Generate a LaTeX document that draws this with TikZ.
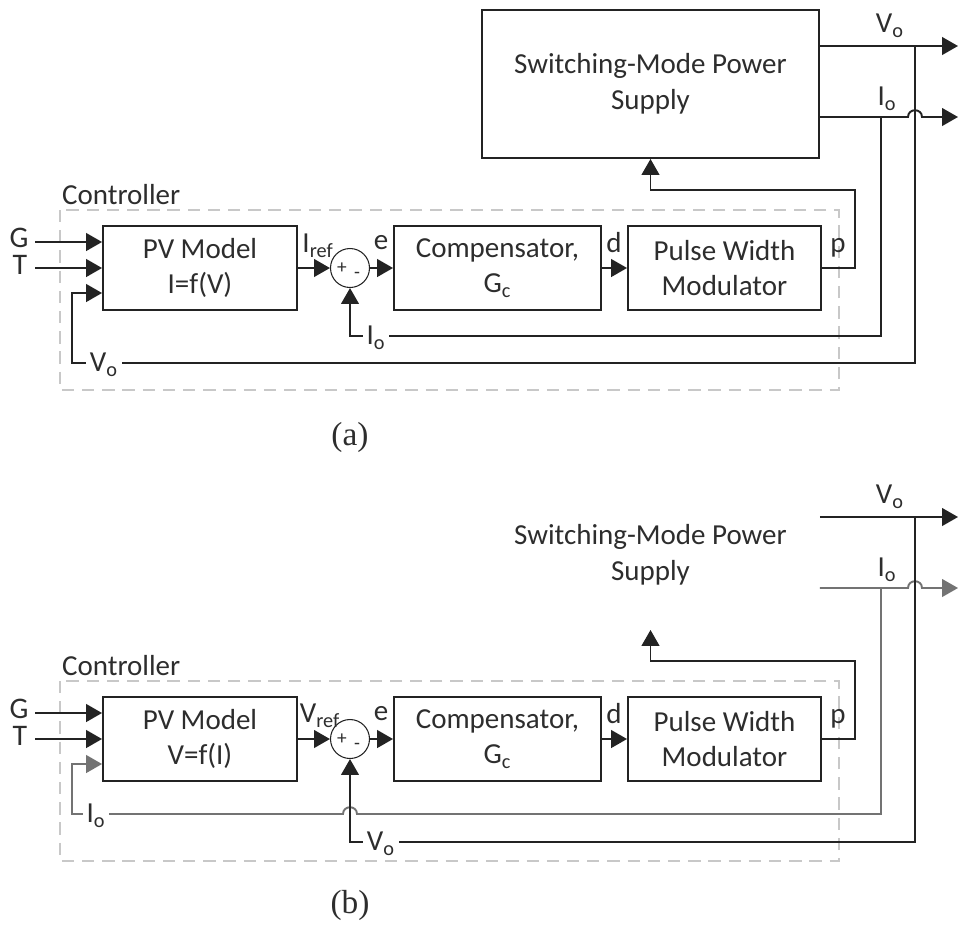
\documentclass[tikz,border=0pt]{standalone}
\usepackage{fontspec}
\setmainfont{Carlito}
\newfontfamily\capfont{Liberation Serif}
\usetikzlibrary{arrows.meta,positioning,calc}
\definecolor{lineDark}{RGB}{35,35,35}
\definecolor{lineGray}{RGB}{115,115,115}
\definecolor{dashGray}{RGB}{200,200,200}
\definecolor{textDark}{RGB}{45,45,45}

\tikzset{
  blk/.style={draw=lineDark, line width=1.1pt, minimum height=1.68cm, align=center,
    font=\fontsize{16.5}{20.4}\selectfont, text=textDark},
  sig/.style={draw=lineDark, line width=1.1pt},
  arr/.style={sig, -{Triangle[length=9pt,width=10pt]}},
  lbl/.style={font=\fontsize{16.5}{20}\selectfont, text=textDark, inner sep=1pt},
  inlbl/.style={lbl, font=\fontsize{17}{20}\selectfont, inner sep=0pt, text height=0.6em, text depth=0pt},
  gaplbl/.style={lbl, fill=white, inner sep=2pt},
  sgn/.style={font=\fontsize{11}{11}\selectfont, text=textDark, inner sep=0pt},
  sumnode/.style={circle, draw=lineDark, line width=0.6pt, minimum size=0.78cm, inner sep=0pt},
  ctrlbox/.style={draw=dashGray, line width=1pt, dash pattern=on 7pt off 4.5pt},
  captxt/.style={font=\capfont\fontsize{19}{22}\selectfont, text=textDark}
}

\begin{document}
\begin{tikzpicture}[x=0.02cm, y=-0.02cm]
  \useasboundingbox (0,0) rectangle (960,931);

  %%% (a) current reference
  \node[blk, minimum width=6.74cm, minimum height=2.96cm] (smpsA) at (650.5,84) {Switching-Mode Power\\Supply};
  \coordinate (voA) at (958,46);
  \coordinate (ioA) at (958,117);
  \coordinate (voTapA) at (915,46);
  \coordinate (ioTapA) at (881,117);
  \draw[arr] (smpsA.east |- voA) -- (voA);
  \draw[arr] (smpsA.east |- ioA) -- (908,117) .. controls (908,108) and (922,108) .. (922,117) -- (ioA);
  \node[lbl] (voLblA) at (890,26) {V\textsubscript{o}};
  \node[lbl] (ioLblA) at (887,99) {I\textsubscript{o}};

  \draw[ctrlbox] (60,210) rectangle (839,390);
  \node[lbl, anchor=west] (ctrlA) at (60,195) {Controller};

  \node[blk, minimum width=3.88cm] (pvA) at (200,268) {PV Model\\I=f(V)};
  \node[inlbl] (gA) at (19,242) {G};
  \node[inlbl] (tA) at (20,269) {T};
  \draw[arr] (35,242) -- (pvA.west |- 0,242);
  \draw[arr] (35,268) -- (pvA.west |- 0,268);

  \node[sumnode] (sumA) at (350,268) {};
  \node[sgn] (plusA) at (342,268) {+};
  \node[sgn] (minusA) at (357,275) {-};
  \node[lbl] (irefA) at (318,246) {I\textsubscript{ref}};
  \node[lbl] (eA) at (381,243) {e};
  \node[blk, minimum width=4.14cm] (compA) at (497.5,268) {Compensator,\\G\textsubscript{c}};
  \node[lbl] (dA) at (614,243) {d};
  \node[blk, minimum width=3.86cm] (pwmA) at (724.5,268) {Pulse Width\\Modulator};
  \node[lbl] (pA) at (838,248) {p};

  % Arrows
  \draw[arr] (pvA) -- (sumA);
  \draw[arr] (sumA) -- (compA);
  \draw[arr] (compA) -- (pwmA);
  \draw[arr] (pwmA.east) -| (855,190) -| (smpsA.south);
  % Feedback
  \draw[arr] (ioTapA) |- (350,336) -- (sumA.south);
  \draw[arr] (voTapA) |- (72,363) |- (pvA.west |- 0,293);
  \node[gaplbl] (ioFbA) at (376,338) {I\textsubscript{o}};
  \node[gaplbl] (voFbA) at (104,365) {V\textsubscript{o}};

  \node[captxt] (capA) at (350,437) {(a)};

  %%% (b) voltage reference
  \node[blk, draw=none, minimum width=6.74cm, minimum height=2.96cm] (smpsB) at (650.5,555) {Switching-Mode Power\\Supply};
  \coordinate (voB) at (958,517);
  \coordinate (ioB) at (958,588);
  \coordinate (voTapB) at (915,517);
  \coordinate (ioTapB) at (881,588);
  \draw[arr] (smpsB.east |- voB) -- (voB);
  \draw[arr, draw=lineGray] (smpsB.east |- ioB) -- (908,588) .. controls (908,579) and (922,579) .. (922,588) -- (ioB);
  \node[lbl] (voLblB) at (890,497) {V\textsubscript{o}};
  \node[lbl] (ioLblB) at (887,570) {I\textsubscript{o}};

  \draw[ctrlbox] (60,681) rectangle (839,861);
  \node[lbl, anchor=west] (ctrlB) at (60,666) {Controller};

  \node[blk, minimum width=3.88cm] (pvB) at (200,739) {PV Model\\V=f(I)};
  \node[inlbl] (gB) at (19,713) {G};
  \node[inlbl] (tB) at (20,740) {T};
  \draw[arr] (35,713) -- (pvB.west |- 0,713);
  \draw[arr] (35,739) -- (pvB.west |- 0,739);

  \node[sumnode] (sumB) at (350,739) {};
  \node[sgn] (plusB) at (342,739) {+};
  \node[sgn] (minusB) at (357,746) {-};
  \node[lbl] (vrefB) at (320,716) {V\textsubscript{ref}};
  \node[lbl] (eB) at (381,714) {e};
  \node[blk, minimum width=4.14cm] (compB) at (497.5,739) {Compensator,\\G\textsubscript{c}};
  \node[lbl] (dB) at (614,714) {d};
  \node[blk, minimum width=3.86cm] (pwmB) at (724.5,739) {Pulse Width\\Modulator};
  \node[lbl] (pB) at (838,719) {p};

  % Arrows
  \draw[arr] (pvB) -- (sumB);
  \draw[arr] (sumB) -- (compB);
  \draw[arr] (compB) -- (pwmB);
  \draw[arr] (pwmB.east) -| (855,661) -| (smpsB.south);
  % Feedback
  \draw[arr, draw=lineGray] (ioTapB) |- (357,814) .. controls (357,805) and (343,805) .. (343,814) -| (72,764) -- (pvB.west |- 0,764);
  \draw[arr] (voTapB) |- (350,842) -- (sumB.south);
  \node[gaplbl] (ioFbB) at (96,816) {I\textsubscript{o}};
  \node[gaplbl] (voFbB) at (381,844) {V\textsubscript{o}};

  \node[captxt] (capB) at (350,905) {(b)};
\end{tikzpicture}
\end{document}
